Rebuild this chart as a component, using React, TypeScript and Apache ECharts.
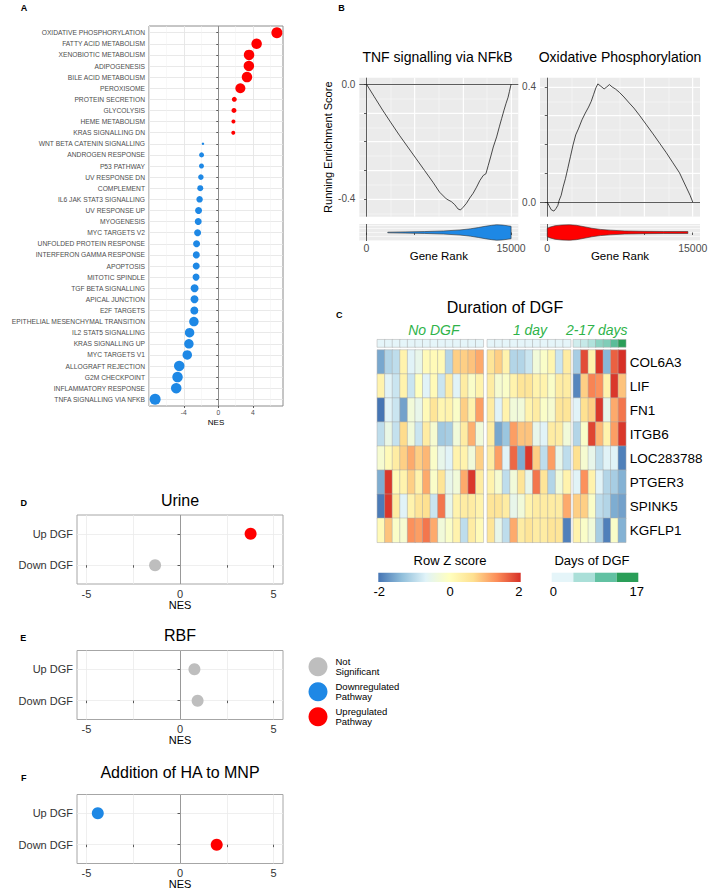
import React, { useEffect, useRef } from "react";
import * as echarts from "echarts";

const FONT = '"Liberation Sans", Arial, Helvetica, sans-serif';
const RED = "#ff0000";
const BLUE = "#1e88e5";
const GREY = "#bebebe";

// ---------------- Panel A ----------------
const pathways = [
  "OXIDATIVE PHOSPHORYLATION", "FATTY ACID METABOLISM", "XENOBIOTIC METABOLISM", "ADIPOGENESIS",
  "BILE ACID METABOLISM", "PEROXISOME", "PROTEIN SECRETION", "GLYCOLYSIS", "HEME METABOLISM",
  "KRAS SIGNALLING DN", "WNT BETA CATENIN SIGNALLING", "ANDROGEN RESPONSE", "P53 PATHWAY",
  "UV RESPONSE DN", "COMPLEMENT", "IL6 JAK STAT3 SIGNALLING", "UV RESPONSE UP", "MYOGENESIS",
  "MYC TARGETS V2", "UNFOLDED PROTEIN RESPONSE", "INTERFERON GAMMA RESPONSE", "APOPTOSIS",
  "MITOTIC SPINDLE", "TGF BETA SIGNALLING", "APICAL JUNCTION", "E2F TARGETS",
  "EPITHELIAL MESENCHYMAL TRANSITION", "IL2 STAT5 SIGNALLING", "KRAS SIGNALLING UP",
  "MYC TARGETS V1", "ALLOGRAFT REJECTION", "G2M CHECKPOINT", "INFLAMMATORY RESPONSE",
  "TNFA SIGNALLING VIA NFKB",
];
const pathwayNES = [
  6.8, 4.45, 3.57, 3.55, 3.33, 2.56, 1.86, 1.82, 1.76, 1.74, -1.78, -1.94, -1.95, -2.02, -2.09,
  -2.17, -2.29, -2.33, -2.4, -2.52, -2.55, -2.56, -2.58, -2.75, -2.76, -2.78, -2.83, -3.33, -3.41,
  -3.6, -4.53, -4.73, -4.88, -7.33,
];
const pathwayDotSize = [
  11, 10.5, 10.5, 10.5, 10.5, 10, 5, 5, 4, 4, 2.5, 5, 5, 5.5, 6, 6.5, 7, 7, 7, 7, 7, 7, 7, 8, 8, 8,
  9.5, 9.5, 9.5, 9.5, 10.5, 10.5, 10.5, 11,
];
const nesTicksA = [-4, 0, 4];

// ---------------- Panel B ----------------
const tnfRank = [
  0, 800, 1670, 2540, 3410, 4280, 5150, 6020, 6890, 7586, 8282, 8804, 9152, 9500, 9744, 10022,
  10370, 10718, 11066, 11414, 11762, 12110, 12389, 12632, 12876, 13154, 13502, 13781, 14024,
  14268, 14477, 14686, 14825, 15000,
];
const tnfES = [
  0, -0.0433, -0.0901, -0.1345, -0.1778, -0.2187, -0.2596, -0.3006, -0.3415, -0.3766, -0.4,
  -0.4094, -0.4199, -0.4351, -0.4386, -0.4292, -0.4152, -0.3965, -0.3801, -0.3591, -0.3357,
  -0.3181, -0.3123, -0.283, -0.2538, -0.2187, -0.1836, -0.1485, -0.1193, -0.0901, -0.0667,
  -0.0456, -0.0257, 0,
];
const oxRank = [
  0, 170, 409, 682, 886, 1091, 1227, 1432, 1636, 1875, 2114, 2386, 2659, 2932, 3239, 3580, 3920,
  4261, 4534, 4773, 5011, 5216, 5523, 5864, 6136, 6409, 6682, 7023, 7432, 7909, 8455, 8932, 9545,
  10227, 10909, 11591, 12273, 12955, 13636, 14318, 14727, 15000,
];
const oxES = [
  0, -0.0117, -0.0268, -0.0315, -0.0233, -0.0117, 0.0058, 0.0233, 0.0525, 0.0816, 0.1166, 0.1574,
  0.1983, 0.2332, 0.2566, 0.2857, 0.309, 0.33, 0.3499, 0.3732, 0.3965, 0.4105, 0.4023, 0.393, 0.4,
  0.4082, 0.4, 0.393, 0.3813, 0.365, 0.344, 0.3265, 0.2997, 0.2682, 0.2367, 0.2041, 0.1714, 0.1364,
  0.1015, 0.0525, 0.0233, 0,
];
const tnfViolinRank = [2200, 4000, 6000, 8000, 9700, 10800, 11600, 12300, 13000, 13500, 14100, 14600, 15000];
const tnfViolinWidth = [0.04, 0.08, 0.12, 0.2, 0.33, 0.48, 0.64, 0.8, 0.93, 1.0, 0.96, 0.88, 0.8];
const oxViolinRank = [0, 300, 800, 1500, 2300, 3000, 3800, 4600, 5500, 6500, 8000, 10000, 12000, 14500];
const oxViolinWidth = [0.55, 0.7, 0.88, 0.97, 1.0, 0.93, 0.75, 0.55, 0.4, 0.3, 0.2, 0.15, 0.13, 0.12];
const rankTicks = [0, 5000, 10000, 15000];
const rankLabels = [0, 15000];

// ---------------- Panel C ----------------
const genes = ["COL6A3", "LIF", "FN1", "ITGB6", "LOC283788", "PTGER3", "SPINK5", "KGFLP1"];
const zNoDGF = [
  [-1.55, -1.05, -0.95, 0.25, -0.65, -0.5, 0.1, 0.1, 0.1, -1.05, 0.8, 0.8, 0.9, 1.1],
  [0.25, -0.65, -0.85, 0.25, -0.85, 0.0, -0.65, 0.1, -0.85, 0.4, -0.65, 0.4, -0.1, 0.25],
  [-2.0, -0.65, -0.85, -1.6, -0.3, -0.5, 0.1, 0.55, 0.2, 0.25, -0.1, 0.8, 0.25, 1.2],
  [-0.95, -0.45, -0.9, 0.7, -0.3, -0.85, 0.4, -0.2, -1.2, -1.15, -0.3, 0.4, 1.05, -0.3],
  [-0.2, 0.1, 0.4, 0.8, 1.1, 0.8, 1.0, -0.1, -0.5, -0.65, 0.25, 0.25, -0.3, 0.8],
  [-1.5, 1.95, 0.1, 0.25, 0.8, 0.25, 1.1, -0.1, 0.55, -0.5, -0.3, 1.1, 1.95, 0.4],
  [-1.95, 1.95, 0.4, -0.65, 0.25, 0.55, 0.65, -0.85, 1.5, -0.5, 0.25, 0.4, 0.4, 0.25],
  [0.1, 0.9, -0.1, -0.2, 1.3, 1.2, 1.5, 1.1, -0.3, -0.1, 0.25, -0.95, 0.4, 0.1],
];
const zOneDay = [
  [0.55, 0.8, 0.25, -1.05, -1.05, -0.85, -0.3, -0.1, 0.2, -0.85, 0.4],
  [0.4, -0.2, -0.1, 0.25, 0.55, 0.55, 0.25, 0.25, -0.1, 0.4, 0.4],
  [0.4, -0.65, 0.25, -0.3, -0.3, 0.25, 0.4, -0.1, -0.2, 0.55, 0.55],
  [0.4, -1.55, -1.25, 1.2, 0.9, 0.9, -0.5, -0.65, 0.4, 0.4, -0.3],
  [0.4, 1.2, -0.65, 1.6, -1.5, 1.95, 0.8, -0.95, 1.2, -0.5, -0.95],
  [0.25, -0.2, -0.95, -0.3, 0.55, -0.5, 1.5, 0.55, -1.05, -0.3, 0.25],
  [0.55, 0.55, 0.4, -0.5, -0.3, 0.25, 0.4, 0.4, 0.4, 0.4, 1.1],
  [0.55, -0.5, -0.95, 1.1, 0.4, 0.55, 0.4, 0.4, 0.55, 0.55, -1.9],
];
const zLongDGF = [
  [-1.15, 1.8, 0.25, 1.95, -1.4, 1.65, 2.0],
  [-1.85, 0.8, 1.4, 1.3, 0.25, 1.95, 0.9],
  [-0.65, 0.65, 0.8, 1.95, -0.5, 1.1, 1.5],
  [-1.05, -0.1, 1.85, 1.0, 0.25, 1.2, 1.95],
  [0.65, -0.2, -0.5, -0.95, -0.65, -0.65, -1.9],
  [-0.65, 1.3, 0.25, -0.65, -1.05, -1.15, -1.45],
  [0.8, 0.8, -0.1, -0.95, -1.05, -1.5, -1.6],
  [0.25, -0.1, -0.3, -1.15, -1.9, -0.1, -1.45],
];
const daysNoDGF = [0, 0, 0, 0, 0, 0, 0, 0, 0, 0, 0, 0, 0, 0];
const daysOneDay = [0, 0, 0, 0, 0, 0, 0, 0, 0, 0, 0];
const daysLongDGF = [2, 3, 5, 8, 9, 12, 17];
const groupNames = ["No DGF", "1 day", "2-17 days"];
const zScoreTickLabels = ["-2", "0", "2"];
const daysTickLabels = ["0", "17"];
const RDYLBU = ["#4575B4", "#91BFDB", "#E0F3F8", "#FFFFBF", "#FEE090", "#FC8D59", "#D73027"];
const BUGN = ["#e5f5f9", "#aadfd8", "#62c1a2", "#2a9e58"];

// ---------------- Panels D-F ----------------
const dgfRows = ["Down DGF", "Up DGF"];
const urineNES = [-1.33, 3.77];
const urineStatus = ["Not Significant", "Upregulated Pathway"];
const rbfNES = [0.94, 0.77];
const rbfStatus = ["Not Significant", "Not Significant"];
const haNES = [1.96, -4.39];
const haStatus = ["Upregulated Pathway", "Downregulated Pathway"];
const statusNames = ["Not Significant", "Downregulated Pathway", "Upregulated Pathway"];
const statusColors = [GREY, BLUE, RED];
const nesTicksDEF = [-5, -2.5, 0, 2.5, 5];
const nesLabelsDEF = [-5, 0, 5];

function buildOption() {
  const grid: any[] = [];
  const xAxis: any[] = [];
  const yAxis: any[] = [];
  const series: any[] = [];
  const graphic: any[] = [];
  const addGrid = (g: any) => {
    grid.push({ outerBoundsMode: "none", containLabel: false, ...g });
    return grid.length - 1;
  };
  const addX = (a: any) => {
    xAxis.push({ position: "bottom", ...a });
    return xAxis.length - 1;
  };
  const addY = (a: any) => {
    yAxis.push({ position: "left", ...a });
    return yAxis.length - 1;
  };
  // helper axis used only to draw grid lines at every multiple of `step`
  const lines = (dim: "x" | "y", gridIndex: number, min: number, max: number, step: number, color: string, width: number, inverse = false) => {
    const ax = {
      gridIndex, type: "value", min, max, inverse, minInterval: step, maxInterval: step,
      position: dim === "x" ? "top" : "right",
      axisLine: { show: false }, axisTick: { show: false }, axisLabel: { show: false },
      splitLine: { show: true, showMinLine: false, showMaxLine: false, lineStyle: { color, width } },
    };
    return dim === "x" ? addX(ax) : addY(ax);
  };
  const txt = (text: string, x: number, y: number, o: any = {}) => {
    graphic.push({
      type: "text",
      x,
      y,
      silent: true,
      style: {
        text,
        fontFamily: FONT,
        fontSize: o.size || 12,
        fontWeight: o.weight || "normal",
        fontStyle: o.style || "normal",
        fill: o.color || "#000",
        align: o.align || "center",
        verticalAlign: "middle",
      },
    });
  };
  const tickStyle = { color: "#333", width: 0.8 };

  // ---------- A ----------
  const gA = addGrid({ left: 149, top: 26, width: 134, height: 380, show: true, borderColor: "#8c8c8c", borderWidth: 1, backgroundColor: "#fff" });
  lines("x", gA, -8.04, 7.51, 2, "#f1f1f1", 0.5);
  lines("x", gA, -8.04, 7.51, 4, "#e3e3e3", 0.8);
  lines("y", gA, -0.6, pathways.length - 0.4, 1, "#e3e3e3", 0.8, true);
  const xA = addX({
    gridIndex: gA, type: "value", min: -8.04, max: 7.51,
    axisLine: { show: false },
    axisTick: { show: true, length: 2, customValues: nesTicksA, lineStyle: tickStyle },
    axisLabel: { customValues: nesTicksA, formatter: (v: number) => String(v), fontSize: 6.7, color: "#4d4d4d", margin: 3, fontFamily: FONT },
    splitLine: { show: false },
    name: "NES", nameLocation: "middle", nameGap: 12, nameMoveOverlap: false,
    nameTextStyle: { fontSize: 8, color: "#000", fontFamily: FONT },
  });
  const idxA = pathways.map((_, i) => i);
  const yA = addY({
    gridIndex: gA, type: "value", inverse: true, min: -0.6, max: pathways.length - 0.4,
    axisLine: { show: false },
    axisTick: { show: true, length: 2, customValues: idxA, lineStyle: tickStyle },
    axisLabel: {
      customValues: idxA, formatter: (v: number) => pathways[Math.round(v)],
      fontSize: 6.7, color: "#4d4d4d", margin: 4, fontFamily: FONT,
    },
    splitLine: { show: false },
  });
  series.push({
    type: "scatter", xAxisIndex: xA, yAxisIndex: yA, silent: true, z: 6,
    data: pathways.map((_, i) => [pathwayNES[i], i, pathwayDotSize[i]]),
    symbolSize: (v: number[]) => v[2],
    itemStyle: { color: (p: any) => (p.value[0] > 0 ? RED : BLUE), opacity: 1 },
    markLine: {
      silent: true, symbol: "none", label: { show: false },
      lineStyle: { color: "#8c8c8c", width: 1, type: "solid" }, data: [{ xAxis: 0 }],
    },
  });

  // ---------- B ----------
  const bPanels = [
    { left: 359.3, width: 159, ymin: -0.462, ymax: 0.023, ticks: [-0.4, -0.3, -0.2, -0.1, 0], labels: [-0.4, 0], rank: tnfRank, es: tnfES, vr: tnfViolinRank, vw: tnfViolinWidth, color: BLUE, yName: "Running Enrichment Score" },
    { left: 540, width: 160, ymin: -0.051, ymax: 0.432, ticks: [0, 0.1, 0.2, 0.3, 0.4], labels: [0, 0.4], rank: oxRank, es: oxES, vr: oxViolinRank, vw: oxViolinWidth, color: RED, yName: "" },
  ];
  bPanels.forEach((b) => {
    const g = addGrid({ left: b.left, top: 77.7, width: b.width, height: 139, show: true, backgroundColor: "#ebebeb", borderWidth: 0 });
    const gs = addGrid({ left: b.left, top: 224, width: b.width, height: 17, show: true, backgroundColor: "#ebebeb", borderWidth: 0 });
    lines("x", g, -750, 15750, 2500, "#fff", 0.45);
    lines("x", g, -750, 15750, 5000, "#fff", 0.9);
    lines("y", g, b.ymin, b.ymax, 0.05, "#fff", 0.45);
    lines("y", g, b.ymin, b.ymax, 0.1, "#fff", 0.9);
    const xb = addX({
      gridIndex: g, type: "value", min: -750, max: 15750, show: false,
    });
    const yb = addY({
      gridIndex: g, type: "value", min: b.ymin, max: b.ymax,
      axisLine: { show: false },
      axisTick: { show: true, length: 2.5, customValues: b.ticks, lineStyle: tickStyle },
      axisLabel: { customValues: b.labels, formatter: (v: number) => v.toFixed(1), fontSize: 10, color: "#4d4d4d", margin: 4, fontFamily: FONT },
      splitLine: { show: false },
      name: b.yName, nameLocation: "middle", nameGap: 26, nameRotate: 90, nameMoveOverlap: false,
      nameTextStyle: { fontSize: 11, color: "#000", fontFamily: FONT },
    });
    series.push({
      type: "line", xAxisIndex: xb, yAxisIndex: yb, silent: true, showSymbol: false, z: 6,
      data: b.rank.map((r, i) => [r, b.es[i]]),
      lineStyle: { color: "#000", width: 0.7 },
      markLine: {
        silent: true, symbol: "none", label: { show: false },
        lineStyle: { color: "#333", width: 0.8, type: "solid" },
        data: [{ yAxis: 0 }, { xAxis: 0 }],
      },
    });
    lines("y", gs, -1.1, 1.1, 0.5, "#fff", 0.6);
    const xs = addX({
      gridIndex: gs, type: "value", min: -750, max: 15750,
      axisLine: { show: false },
      axisTick: { show: true, length: 2.5, customValues: rankTicks, lineStyle: tickStyle },
      axisLabel: { customValues: rankLabels, formatter: (v: number) => String(v), fontSize: 10.5, color: "#4d4d4d", margin: 1.5, fontFamily: FONT },
      splitLine: { show: false },
      name: "Gene Rank", nameLocation: "middle", nameGap: 9, nameMoveOverlap: false,
      nameTextStyle: { fontSize: 11.5, color: "#000", fontFamily: FONT },
    });
    const ys = addY({ gridIndex: gs, type: "value", min: -1.1, max: 1.1, show: false });
    const vr = b.vr, vw = b.vw, col = b.color;
    series.push({
      type: "custom", xAxisIndex: xs, yAxisIndex: ys, silent: true, z: 6,
      data: vr.map((r, i) => [r, vw[i]]),
      renderItem: (params: any, api: any) => {
        if (params.dataIndex !== 0) return null;
        const upper = vr.map((r, i) => api.coord([r, vw[i]]));
        const lower = vr.map((r, i) => api.coord([r, -vw[i]])).reverse();
        return {
          type: "polygon",
          shape: { points: upper.concat(lower) },
          style: { fill: col, stroke: "#333", lineWidth: 0.6 },
        };
      },
      markLine: {
        silent: true, symbol: "none", label: { show: false },
        lineStyle: { color: "#333", width: 0.8, type: "solid" }, data: [{ xAxis: 0 }],
      },
    });
  });

  // ---------- C ----------
  const heatIdx: number[] = [];
  const annIdx: number[] = [];
  const cGroups = [
    { left: 377.3, width: 106, z: zNoDGF, days: daysNoDGF },
    { left: 487.3, width: 83.4, z: zOneDay, days: daysOneDay },
    { left: 573.3, width: 52.5, z: zLongDGF, days: daysLongDGF },
  ];
  cGroups.forEach((cg, gi) => {
    const cols = cg.days.map((_, i) => `${groupNames[gi]} ${i + 1}`);
    const gAnn = addGrid({ left: cg.left, top: 339.7, width: cg.width, height: 7.3 });
    const gHeat = addGrid({ left: cg.left, top: 350, width: cg.width, height: 192.3 });
    const xAnn = addX({ gridIndex: gAnn, type: "category", data: cols, show: false });
    const yAnn = addY({ gridIndex: gAnn, type: "category", data: ["Days of DGF"], show: false });
    const xH = addX({ gridIndex: gHeat, type: "category", data: cols, show: false });
    const yH = addY({
      gridIndex: gHeat, type: "category", data: genes, inverse: true, show: gi === 2, position: "right",
      axisLine: { show: false }, axisTick: { show: false },
      axisLabel: { interval: 0, fontSize: 13.5, color: "#000", margin: 4, fontFamily: FONT },
      splitLine: { show: false },
    });
    annIdx.push(series.length);
    series.push({
      type: "heatmap", xAxisIndex: xAnn, yAxisIndex: yAnn, silent: true,
      data: cg.days.map((d, c) => [c, 0, d]),
      itemStyle: { borderColor: "#a8a8a8", borderWidth: 0.5 },
      emphasis: { disabled: true },
    });
    heatIdx.push(series.length);
    const data: any[] = [];
    cg.z.forEach((row, r) => row.forEach((v, c) => data.push([c, r, v])));
    series.push({
      type: "heatmap", xAxisIndex: xH, yAxisIndex: yH, silent: true, data,
      itemStyle: { borderColor: "#a8a8a8", borderWidth: 0.5 },
      emphasis: { disabled: true },
    });
  });
  txt("Duration of DGF", 505, 307.6, { size: 16 });
  txt(groupNames[0], 433.8, 330, { size: 14, style: "italic", color: "#2fb34a" });
  txt(groupNames[1], 530, 330, { size: 14, style: "italic", color: "#2fb34a" });
  txt(groupNames[2], 596.7, 330, { size: 14, style: "italic", color: "#2fb34a" });
  txt("Row Z score", 450, 560.5, { size: 13 });
  txt("Days of DGF", 592, 560.5, { size: 13 });
  graphic.push({
    type: "rect", silent: true,
    shape: { x: 378.3, y: 572.7, width: 142.4, height: 9.3 },
    style: {
      fill: new echarts.graphic.LinearGradient(0, 0, 1, 0, RDYLBU.map((c, i) => ({ offset: i / (RDYLBU.length - 1), color: c }))),
    },
  });
  BUGN.forEach((c, i) => {
    graphic.push({
      type: "rect", silent: true,
      shape: { x: 551.7 + i * 21.65, y: 572.7, width: 21.65, height: 9.3 },
      style: { fill: c },
    });
  });
  txt(zScoreTickLabels[0], 379.2, 591.4, { size: 13 });
  txt(zScoreTickLabels[1], 450, 591.4, { size: 13 });
  txt(zScoreTickLabels[2], 518.8, 591.4, { size: 13 });
  txt(daysTickLabels[0], 553.3, 591.4, { size: 13 });
  txt(daysTickLabels[1], 636.7, 591.4, { size: 13 });

  // ---------- D-F ----------
  const defPanels = [
    { title: "Urine", top: 515, titleY: 500.9, nes: urineNES, status: urineStatus },
    { title: "RBF", top: 650.5, titleY: 635.9, nes: rbfNES, status: rbfStatus },
    { title: "Addition of HA to MNP", top: 794.5, titleY: 772.6, nes: haNES, status: haStatus },
  ];
  let firstX = 0, firstY = 0;
  defPanels.forEach((p, pi) => {
    const g = addGrid({ left: 77, top: p.top, width: 206, height: 69, show: true, borderColor: "#a6a6a6", borderWidth: 1, backgroundColor: "#fff" });
    lines("x", g, -5.5, 5.5, 2.5, "#ebebeb", 0.8);
    lines("y", g, -0.6, dgfRows.length - 0.4, 1, "#ebebeb", 0.8);
    const xd = addX({
      gridIndex: g, type: "value", min: -5.5, max: 5.5,
      axisLine: { show: false },
      axisTick: { show: true, length: 2.5, customValues: nesTicksDEF, lineStyle: tickStyle },
      axisLabel: { customValues: nesLabelsDEF, formatter: (v: number) => String(v), fontSize: 11, color: "#333", margin: 4, fontFamily: FONT },
      splitLine: { show: false },
      name: "NES", nameLocation: "middle", nameGap: 15, nameMoveOverlap: false,
      nameTextStyle: { fontSize: 11, color: "#000", fontFamily: FONT },
    });
    const yd = addY({
      gridIndex: g, type: "value", min: -0.6, max: dgfRows.length - 0.4,
      axisLine: { show: false },
      axisTick: { show: true, length: 2.5, customValues: dgfRows.map((_, i) => i), lineStyle: tickStyle },
      axisLabel: { customValues: dgfRows.map((_, i) => i), formatter: (v: number) => dgfRows[Math.round(v)], fontSize: 11, color: "#333", margin: 4, fontFamily: FONT },
      splitLine: { show: false },
    });
    if (pi === 0) { firstX = xd; firstY = yd; }
    series.push({
      type: "scatter", xAxisIndex: xd, yAxisIndex: yd, silent: true, z: 6,
      data: dgfRows.map((_, i) => [p.nes[i], i, p.status[i]]),
      symbolSize: 12,
      itemStyle: { color: (d: any) => statusColors[statusNames.indexOf(d.value[2])], opacity: 1 },
      markLine: {
        silent: true, symbol: "none", label: { show: false },
        lineStyle: { color: "#999", width: 1, type: "solid" }, data: [{ xAxis: 0 }],
      },
    });
    txt(p.title, 180, p.titleY, { size: 16 });
  });
  statusNames.forEach((n, i) => {
    series.push({
      type: "scatter", name: n, xAxisIndex: firstX, yAxisIndex: firstY, data: [],
      symbol: "circle", itemStyle: { color: statusColors[i], opacity: 1 },
    });
  });

  // Panel letters
  txt("A", 24, 8.3, { size: 9, weight: "bold" });
  txt("B", 341.5, 8.3, { size: 9, weight: "bold" });
  txt("C", 339.2, 315, { size: 9, weight: "bold" });
  txt("D", 23.7, 503.3, { size: 9, weight: "bold" });
  txt("E", 23.3, 638.3, { size: 9, weight: "bold" });
  txt("F", 23.7, 778.3, { size: 9, weight: "bold" });
  // Panel B titles
  txt("TNF signalling via NFkB", 437.5, 56.8, { size: 14 });
  txt("Oxidative Phosphorylation", 620, 56.8, { size: 14 });

  return {
    animation: false,
    backgroundColor: "#fff",
    textStyle: { fontFamily: FONT },
    grid, xAxis, yAxis, series, graphic,
    visualMap: [
      { type: "continuous", show: false, min: -2, max: 2, dimension: 2, seriesIndex: heatIdx, inRange: { color: RDYLBU } },
      { type: "continuous", show: false, min: 0, max: 17, dimension: 2, seriesIndex: annIdx, inRange: { color: BUGN } },
    ],
    legend: {
      data: statusNames, orient: "vertical", left: 308.5, top: 656.7, padding: 0,
      itemGap: 5, itemWidth: 19, itemHeight: 19, icon: "circle", selectedMode: false,
      itemStyle: { opacity: 1 },
      formatter: (name: string) => name.replace(" ", "\n"),
      textStyle: { fontSize: 9.5, lineHeight: 10, color: "#000", fontFamily: FONT, padding: [0, 0, 0, 3] },
    },
  };
}

export default function App() {
  const ref = useRef<HTMLDivElement>(null);
  useEffect(() => {
    const chart = echarts.init(ref.current!, null, { renderer: "svg" });
    chart.setOption(buildOption() as any);
    return () => chart.dispose();
  }, []);
  return (
    <div
      ref={ref}
      style={{ position: "fixed", left: 0, top: 0, width: 709, height: 890, background: "#fff" }}
    />
  );
}
